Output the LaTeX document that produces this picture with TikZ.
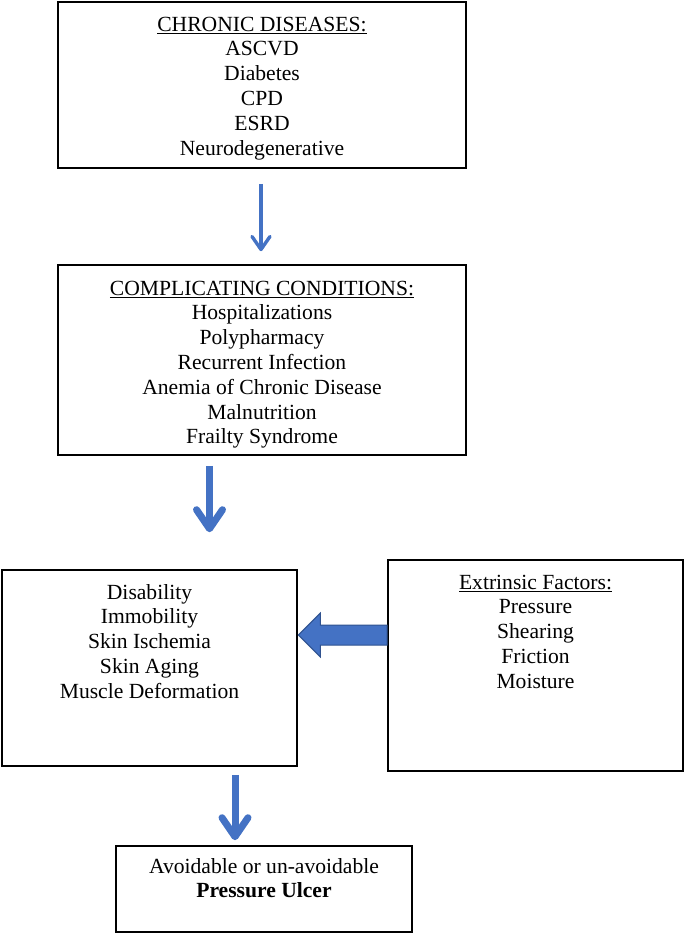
\documentclass[tikz,border=0pt]{standalone}
\usepackage{fontspec}
\setmainfont{Liberation Serif}
\usetikzlibrary{arrows.meta,calc}
\definecolor{arrblue}{HTML}{4472C4}
\definecolor{arrline}{HTML}{2F528F}
\begin{document}
\begin{tikzpicture}[x=1pt,y=1pt,
  box/.style={draw=black, line width=1.6pt, rectangle, inner sep=0pt},
  txt/.style={anchor=north, align=center, inner sep=0pt, font=\fontsize{21.6}{24.8}\selectfont},
  thinarr/.style={draw=arrblue, line width=3.4pt, -{Straight Barb[length=13pt,width=18pt,line join=round,line cap=round]}},
  thickarr/.style={draw=arrblue, line width=7pt, -{Straight Barb[length=19pt,width=26pt,line join=round,line cap=round]}},
  blockarr/.style={fill=arrblue, draw=arrline, line width=1pt, line join=miter}
]
\useasboundingbox (0,0) rectangle (685,-936);
\fill[white] (0,0) rectangle (685,-936);

\node[box, minimum width=408pt, minimum height=166pt] (b1) at (262,-85) {};
\node[box, minimum width=408pt, minimum height=190pt] (b2) at (262,-360) {};
\node[box, minimum width=295pt, minimum height=196pt] (b3) at (149.5,-668) {};
\node[box, minimum width=295pt, minimum height=211pt] (b4) at (535.5,-665.5) {};
\node[box, minimum width=296pt, minimum height=86pt] (b5) at (264,-889) {};

\node[txt] (t1) at (262,-13.5) {\strut\underline{CHRONIC DISEASES:}\\ASCVD\\Diabetes\\CPD\\ESRD\\Neurodegenerative};
\node[txt] (t2) at (262,-277.6) {\strut\underline{COMPLICATING CONDITIONS:}\\Hospitalizations\\Polypharmacy\\Recurrent Infection\\Anemia of Chronic Disease\\Malnutrition\\Frailty Syndrome};
\node[txt] (t3) at (149.5,-581.5) {\strut Disability\\Immobility\\Skin Ischemia\\Skin Aging\\Muscle Deformation};
\node[txt] (t4) at (535.5,-571.6) {\strut\underline{Extrinsic Factors:}\\Pressure\\Shearing\\Friction\\Moisture};
\node[txt] (t5) at (264,-855.6) {\strut Avoidable or un-avoidable\\\textbf{Pressure Ulcer}};

\draw[thinarr, shorten <=15pt, shorten >=13pt] (b1.south -| 261,0) -- (b2.north -| 261,0);
\draw[thickarr, shorten <=10pt, shorten >=37pt] (b2.south -| 209.5,0) -- (b3.north -| 209.5,0);
\draw[thickarr, shorten <=8pt, shorten >=5pt] (b3.south -| 235,0) -- (b5.north -| 235,0);

\coordinate (tip) at ($(b3.east |- 0,-635)+(0.5,0)$);
\coordinate (tail) at (b4.west |- 0,-635);
\draw[blockarr] (tip) -- ++(22,22) -- ++(0,-12) -- (tail |- 0,-625) -- (tail |- 0,-645) -- ($(tip)+(22,-10)$) -- ($(tip)+(22,-22)$) -- cycle;
\end{tikzpicture}
\end{document}
